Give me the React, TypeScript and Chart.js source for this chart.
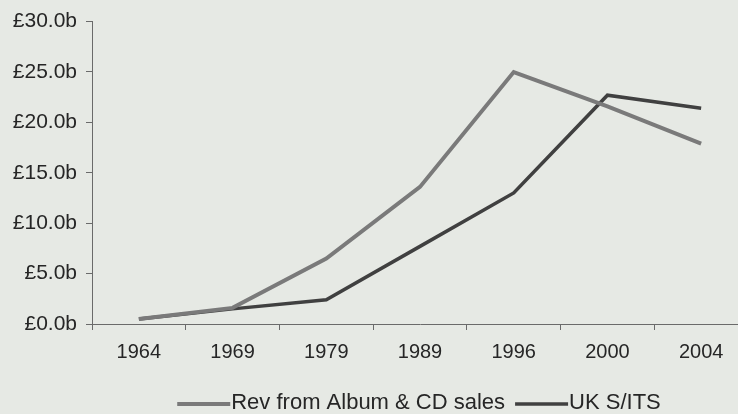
import React, { useEffect, useRef } from "react";
import { Chart, registerables } from "chart.js";

Chart.register(...registerables);

const years = ["1964", "1969", "1979", "1989", "1996", "2000", "2004"];
const revAlbumCd = [0.5, 1.6, 6.5, 13.6, 25.0, 21.6, 17.9];
const ukSits = [0.5, 1.5, 2.4, 7.7, 13.0, 22.7, 21.4];
const seriesNames = ["Rev from Album & CD sales", "UK S/ITS"];
const yTicks = { min: 0, max: 30, step: 5 };

const FONT = "'Liberation Sans', Arial, sans-serif";

const bottomLegend = {
  id: "bottomLegend",
  afterDraw(chart: any) {
    const ctx = chart.ctx as CanvasRenderingContext2D;
    ctx.save();
    ctx.font = `22px ${FONT}`;
    ctx.textBaseline = "middle";
    ctx.textAlign = "left";
    const lineLen = 53;
    const gapAfterLine = 1;
    const itemGap = 10;
    const items = chart.data.datasets.map((ds: any) => ({
      label: ds.label as string,
      color: ds.borderColor as string,
      width: ds.borderWidth as number,
      tw: ctx.measureText(ds.label).width,
    }));
    const total =
      items.reduce((a: number, it: any) => a + lineLen + gapAfterLine + it.tw, 0) +
      itemGap * (items.length - 1);
    let x = chart.width / 2 - total / 2;
    const y = 403;
    for (const it of items) {
      ctx.strokeStyle = it.color;
      ctx.lineWidth = it.width;
      ctx.lineCap = "butt";
      ctx.beginPath();
      ctx.moveTo(x, y + 1);
      ctx.lineTo(x + lineLen, y + 1);
      ctx.stroke();
      x += lineLen + gapAfterLine;
      ctx.fillStyle = "#262626";
      ctx.fillText(it.label, x, y);
      x += it.tw + itemGap;
    }
    ctx.restore();
  },
};

export default function App() {
  const ref = useRef<HTMLCanvasElement | null>(null);

  useEffect(() => {
    if (!ref.current) return;
    const chart = new Chart(ref.current, {
      type: "line",
      data: {
        labels: years,
        datasets: [
          {
            label: seriesNames[0],
            data: revAlbumCd,
            borderColor: "#7a7a7a",
            backgroundColor: "#7a7a7a",
            borderWidth: 4,
            pointRadius: 0,
            tension: 0,
          },
          {
            label: seriesNames[1],
            data: ukSits,
            borderColor: "#404040",
            backgroundColor: "#404040",
            borderWidth: 3.5,
            pointRadius: 0,
            tension: 0,
          },
        ],
      },
      options: {
        animation: false,
        responsive: false,
        layout: { padding: { top: 20, left: 0, right: 0, bottom: 31 } },
        plugins: {
          tooltip: { enabled: false },
          legend: { display: false },
        },
        scales: {
          x: {
            type: "category",
            offset: true,
            grid: {
              offset: true,
              drawOnChartArea: false,
              drawTicks: true,
              tickLength: 6,
              color: "#6a6a6a",
            },
            border: { display: true, color: "#6a6a6a", width: 1 },
            ticks: {
              color: "#262626",
              padding: 10,
              maxRotation: 0,
              autoSkip: false,
              font: { family: FONT, size: 20 },
            },
            afterFit: (s: any) => {
              s.height = 59;
            },
          },
          y: {
            type: "linear",
            position: "left",
            min: yTicks.min,
            max: yTicks.max,
            grid: {
              drawOnChartArea: false,
              drawTicks: true,
              tickLength: 6,
              color: "#6a6a6a",
            },
            border: { display: true, color: "#6a6a6a", width: 1 },
            ticks: {
              stepSize: yTicks.step,
              color: "#262626",
              padding: 9,
              font: { family: FONT, size: 21 },
              callback: (v: any) => "£" + Number(v).toFixed(1) + "b",
            },
            afterFit: (s: any) => {
              s.width = 92;
            },
          },
          y2: {
            type: "linear",
            position: "right",
            display: true,
            grid: { display: false, drawTicks: false },
            border: { display: false },
            ticks: { display: false },
            afterFit: (s: any) => {
              s.width = 90;
            },
          },
        },
      },
      plugins: [bottomLegend],
    });
    return () => chart.destroy();
  }, []);

  return (
    <div
      style={{
        position: "fixed",
        left: 0,
        top: 0,
        width: 738,
        height: 414,
        overflow: "hidden",
        background: "#e6e9e4",
      }}
    >
      <canvas ref={ref} width={838} height={414} style={{ display: "block" }} />
    </div>
  );
}
